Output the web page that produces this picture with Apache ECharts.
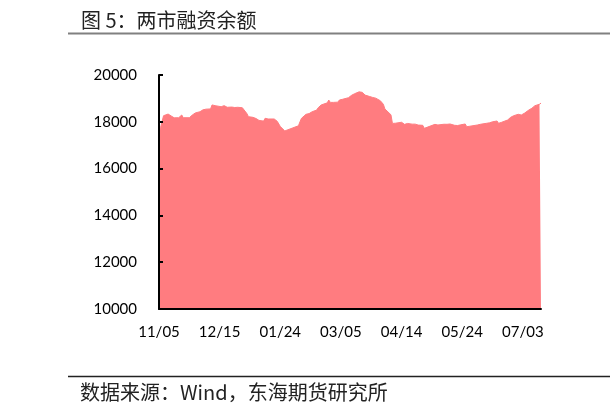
<!DOCTYPE html>
<html>
<head>
<meta charset="utf-8">
<script src="https://cdn.jsdelivr.net/npm/echarts@6/dist/echarts.min.js"></script>
<style>
html,body{margin:0;padding:0;background:#fff;}
#chart{width:610px;height:409px;}
</style>
</head>
<body>
<div id="chart"></div>
<script>
// ---- data (两市融资余额, 亿元) ----
const dates = [
"2024-11-05","2024-11-06","2024-11-07","2024-11-08","2024-11-11","2024-11-12","2024-11-13","2024-11-14","2024-11-15",
"2024-11-18","2024-11-19","2024-11-20","2024-11-21","2024-11-22","2024-11-25","2024-11-26","2024-11-27","2024-11-28","2024-11-29",
"2024-12-02","2024-12-03","2024-12-04","2024-12-05","2024-12-06","2024-12-09","2024-12-10","2024-12-11","2024-12-12","2024-12-13",
"2024-12-16","2024-12-17","2024-12-18","2024-12-19","2024-12-20","2024-12-23","2024-12-24","2024-12-25","2024-12-26","2024-12-27",
"2024-12-30","2024-12-31","2025-01-02","2025-01-03","2025-01-06","2025-01-07","2025-01-08","2025-01-09","2025-01-10",
"2025-01-13","2025-01-14","2025-01-15","2025-01-16","2025-01-17","2025-01-20","2025-01-21","2025-01-22","2025-01-23","2025-01-24",
"2025-01-27","2025-02-05","2025-02-06","2025-02-07","2025-02-10","2025-02-11","2025-02-12","2025-02-13","2025-02-14",
"2025-02-17","2025-02-18","2025-02-19","2025-02-20","2025-02-21","2025-02-24","2025-02-25","2025-02-26","2025-02-27","2025-02-28",
"2025-03-03","2025-03-04","2025-03-05","2025-03-06","2025-03-07","2025-03-10","2025-03-11","2025-03-12","2025-03-13","2025-03-14",
"2025-03-17","2025-03-18","2025-03-19","2025-03-20","2025-03-21","2025-03-24","2025-03-25","2025-03-26","2025-03-27","2025-03-28",
"2025-03-31","2025-04-01","2025-04-02","2025-04-03","2025-04-07","2025-04-08","2025-04-09","2025-04-10","2025-04-11",
"2025-04-14","2025-04-15","2025-04-16","2025-04-17","2025-04-18","2025-04-21","2025-04-22","2025-04-23","2025-04-24","2025-04-25",
"2025-04-28","2025-04-29","2025-04-30","2025-05-06","2025-05-07","2025-05-08","2025-05-09",
"2025-05-12","2025-05-13","2025-05-14","2025-05-15","2025-05-16","2025-05-19","2025-05-20","2025-05-21","2025-05-22","2025-05-23",
"2025-05-26","2025-05-27","2025-05-28","2025-05-29","2025-05-30","2025-06-03","2025-06-04","2025-06-05","2025-06-06",
"2025-06-09","2025-06-10","2025-06-11","2025-06-12","2025-06-13","2025-06-16","2025-06-17","2025-06-18","2025-06-19","2025-06-20",
"2025-06-23","2025-06-24","2025-06-25","2025-06-26","2025-06-27","2025-06-30","2025-07-01","2025-07-02","2025-07-03","2025-07-04",
"2025-07-07","2025-07-08","2025-07-09","2025-07-10","2025-07-11","2025-07-14","2025-07-15"
];
const balance = [
17480,17750,18000,18260,18330,18310,18250,18180,18170,
18175,18180,18290,18175,18170,18175,18200,18290,18330,18380,
18430,18500,18510,18530,18540,18550,18720,18700,18690,18650,
18645,18660,18690,18690,18620,18630,18620,18610,18620,18620,
18600,18550,18350,18220,18190,18170,18140,18120,18060,
18030,18150,18140,18120,18120,18120,18110,18020,17950,17800,
17610,17830,18000,18150,18320,18340,18350,18370,18430,
18500,18600,18650,18720,18760,18810,18930,18830,18830,18830,
18840,18930,18940,18960,18980,19030,19110,19130,19150,19200,
19280,19320,19260,19200,19140,19080,19060,19040,19020,19010,
18900,18870,18750,18550,18300,17930,17930,17940,17930,
17980,17930,17890,17900,17930,17900,17935,17900,17880,17860,
17850,17720,17700,17890,17870,17865,17906,
17895,17890,17893,17900,17906,17850,17820,17840,17860,17870,
17906,17790,17800,17810,17820,17863,17880,17893,17900,
17935,17945,17955,17963,18000,18034,17935,17950,17978,17990,
18077,18130,18192,18230,18261,18320,18310,18290,18330,18363,
18504,18540,18580,18604,18688,18750,18800
];
const yTicks = [10000, 12000, 14000, 16000, 18000, 20000];
const xLabelStepDays = 40;
const titleText = "图 5：两市融资余额";
const sourceText = "数据来源：Wind，东海期货研究所";

// ---- build ----
const DAY = 86400000;
const base = Date.parse(dates[0] + "T00:00:00Z");
const dayOf = d => Math.round((Date.parse(d + "T00:00:00Z") - base) / DAY);
const seriesData = dates.map((d, i) => [dayOf(d), balance[i]]);
const lastDay = dayOf(dates[dates.length - 1]);
const pad = n => (n < 10 ? "0" : "") + n;
const fmtDay = v => { const t = new Date(base + v * DAY); return pad(t.getUTCMonth() + 1) + "/" + pad(t.getUTCDate()); };

const chart = echarts.init(document.getElementById("chart"), null, { renderer: "canvas" });
const labelFont = { color: "#000", fontFamily: "Lato, 'Liberation Sans', sans-serif", fontSize: 15 };
chart.setOption({
  animation: false,
  backgroundColor: "#fff",
  grid: { left: 159, right: 69, top: 75, bottom: 100, containLabel: false },
  xAxis: {
    type: "value",
    z: 10,
    min: 0,
    max: lastDay,
    interval: xLabelStepDays,
    axisLine: { show: true, lineStyle: { color: "#000", width: 2 } },
    axisTick: { show: false },
    splitLine: { show: false },
    axisLabel: Object.assign({ margin: 16, showMaxLabel: false, formatter: v => fmtDay(v) }, labelFont)
  },
  yAxis: {
    type: "value",
    z: 10,
    min: yTicks[0],
    max: yTicks[yTicks.length - 1],
    interval: yTicks[1] - yTicks[0],
    axisLine: { show: true, lineStyle: { color: "#000", width: 2 } },
    axisTick: { show: true, inside: true, length: 4, lineStyle: { color: "#000", width: 2 } },
    splitLine: { show: false },
    axisLabel: Object.assign({ margin: 22, formatter: v => String(v) }, labelFont)
  },
  series: [{
    type: "line",
    data: seriesData,
    showSymbol: false,
    symbol: "none",
    lineStyle: { width: 1, color: "#FF7C80" },
    areaStyle: { color: "#FF7C80", opacity: 1, origin: "start" },
    z: 1
  }],
  graphic: [
    { type: "text", left: 81, top: 10, style: { text: titleText, fontSize: 20, fontFamily: "'Noto Sans CJK SC', sans-serif", fill: "#222" } },
    { type: "line", shape: { x1: 68, y1: 33.5, x2: 610, y2: 33.5 }, style: { stroke: "#808080", lineWidth: 2 } },
    { type: "line", shape: { x1: 68, y1: 376.5, x2: 610, y2: 376.5 }, style: { stroke: "#222", lineWidth: 1.5 } },
    { type: "text", left: 80, top: 382, style: { text: sourceText, fontSize: 20, fontFamily: "'Noto Sans CJK SC', sans-serif", fill: "#222" } }
  ]
});
</script>
</body>
</html>
